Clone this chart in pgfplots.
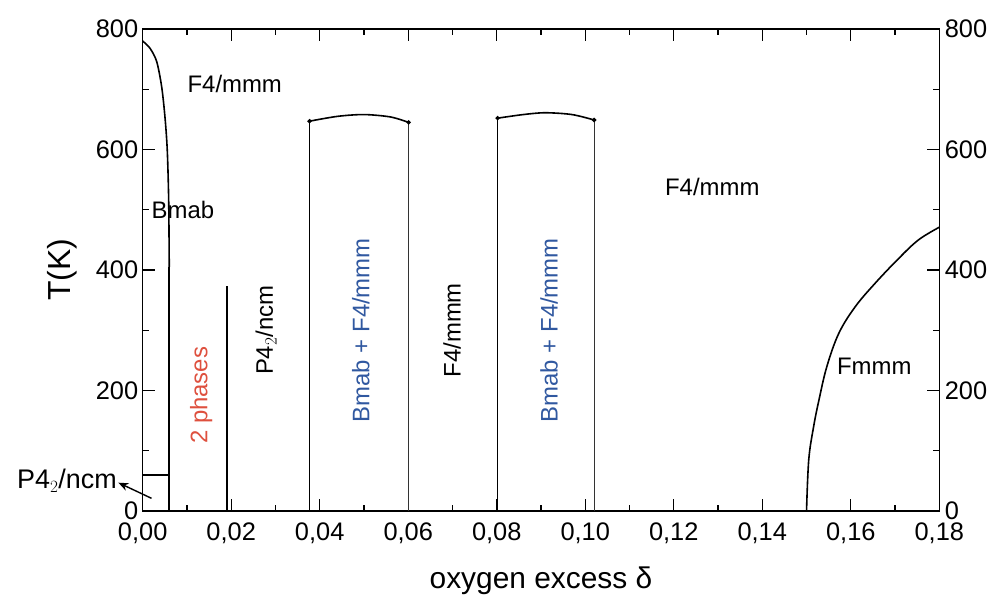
\documentclass[border=0pt]{standalone}
\usepackage{pgfplots}
\pgfplotsset{compat=1.18}
\usetikzlibrary{arrows.meta}
\usepackage{fontspec}
\setmainfont{Liberation Sans}
\definecolor{phred}{RGB}{222,80,62}
\definecolor{phblue}{RGB}{48,88,160}
\begin{document}
\begin{tikzpicture}
\path[use as bounding box] (-142.7bp,-93bp) rectangle (855.3bp,511bp);
\pgfplotsset{
  common/.style={
    at={(0,0)}, anchor=south west,
    width=796.6bp, height=482bp, scale only axis,
    xmin=0, xmax=0.18, ymin=0, ymax=800,
    ytick={0,200,400,600,800}, yticklabels={0,200,400,600,800},
    minor y tick num=1,
    tick align=inside,
    major tick length=12bp, minor tick length=6bp,
    axis line style={line width=1.4bp},
    every tick/.style={line width=1.1bp, black},
    xticklabel style={font=\fontsize{25.5}{25.5}\selectfont},
    yticklabel style={font=\fontsize{25.5}{25.5}\selectfont},
  },
  ln/.style={black, line width=1.6bp, mark=none, solid},
}
\begin{axis}[common,
  clip=false,
  cycle list={{black, line width=1.6bp, mark=none, solid}},
  xtick={0,0.02,0.04,0.06,0.08,0.10,0.12,0.14,0.16,0.18},
  xticklabels={{0,00},{0,02},{0,04},{0,06},{0,08},{0,10},{0,12},{0,14},{0,16},{0,18}},
  minor x tick num=1,
  xtick pos=both, ytick pos=both, yticklabel pos=left,
  xticklabel style={yshift=-8bp},
  yticklabel style={xshift=-1bp},
  xlabel={oxygen excess δ},
  ylabel={T(K)},
  xlabel style={font=\fontsize{30}{30}\selectfont, at={(axis description cs:0.5,-0.145)}, anchor=center},
  ylabel style={font=\fontsize{32}{32}\selectfont, at={(axis description cs:-0.101,0.5)}, anchor=center},
]
% Bmab boundary
\addplot[ln, smooth, tension=0.5] coordinates {(0,780) (0.00165,768) (0.00316,746) (0.00429,704) (0.00503,654) (0.00555,599) (0.00587,516) (0.006,405)};
\addplot[ln] coordinates {(0.006,405) (0.006,0)};
% P4_2/ncm low-T boundary
\addplot[ln] coordinates {(0,60) (0.006,60)};
% line at 0.019
\addplot[ln] coordinates {(0.019,0) (0.019,373)};
% box 1
\addplot[ln] coordinates {(0.0377,0) (0.0377,647)};
\addplot[ln, smooth, mark=*, mark size=1.3bp, mark repeat=4] coordinates {(0.0377,647) (0.044,655) (0.050,658) (0.056,654) (0.0601,645)};
\addplot[ln, line width=1.1bp, black!80] coordinates {(0.0601,645) (0.0601,0)};
% box 2
\addplot[ln] coordinates {(0.0802,0) (0.0802,652)};
\addplot[ln, smooth, mark=*, mark size=1.3bp, mark repeat=4] coordinates {(0.0802,652) (0.086,658) (0.091,661) (0.097,658) (0.102,649)};
\addplot[ln, line width=1.1bp, black!80] coordinates {(0.102,649) (0.102,0)};
% Fmmm boundary
\addplot[ln, smooth, tension=0.6] coordinates {(0.15,0) (0.1505,85) (0.1516,140) (0.1528,184) (0.1546,240) (0.1573,295) (0.161,339) (0.1655,378) (0.1708,419) (0.1753,450) (0.18,471)};
% labels
\begin{scope}[every node/.style={font=\fontsize{24}{24}\selectfont}]
\node at (axis cs:0.0208,708) {F4/mmm};
\node[anchor=west, inner sep=0pt] at (axis cs:0.0020,500) {Bmab};
\node[rotate=90, text=phred] at (axis cs:0.0132,192) {2 phases};
\node[rotate=90] at (axis cs:0.0279,300) {P4$_2$/ncm};
\node[rotate=90, text=phblue] at (axis cs:0.0493,300) {Bmab + F4/mmm};
\node[rotate=90] at (axis cs:0.0699,300) {F4/mmm};
\node[rotate=90, text=phblue] at (axis cs:0.0918,300) {Bmab + F4/mmm};
\node at (axis cs:0.1287,538) {F4/mmm};
\node at (axis cs:0.1653,240) {Fmmm};
\node[anchor=east, inner sep=1pt, font=\fontsize{27}{27}\selectfont] at (axis cs:-0.0056,50) {P4$_2$/ncm};
\end{scope}
\draw[-{Stealth[length=10bp,width=8bp]}, line width=1.4bp] (axis cs:0.002,21) -- (axis cs:-0.0055,47);
\end{axis}
\begin{axis}[common,
  axis x line=none, axis y line*=right,
  ytick pos=right, yticklabel pos=right,
  yticklabel style={xshift=2bp},
  major tick length=0bp, minor tick length=0bp,
]
\addplot[draw=none] coordinates {(0,0)};
\end{axis}
\end{tikzpicture}
\end{document}
